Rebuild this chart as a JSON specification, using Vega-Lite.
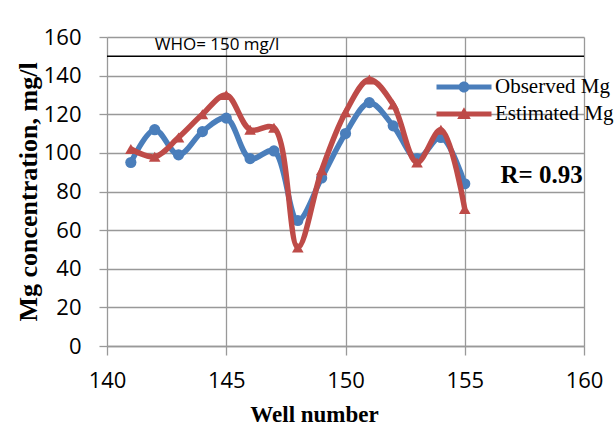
{
  "$schema": "https://vega.github.io/schema/vega-lite/v6.json",
  "width": 477,
  "height": 309,
  "autosize": "none",
  "padding": {"left": 107, "top": 37, "right": 32, "bottom": 80},
  "background": "white",
  "config": {"view": {"stroke": null}},
  "datasets": {
    "mg": [
      {"well": 141, "series": "Observed Mg", "mg": 95},
      {"well": 142, "series": "Observed Mg", "mg": 112},
      {"well": 143, "series": "Observed Mg", "mg": 99},
      {"well": 144, "series": "Observed Mg", "mg": 111},
      {"well": 145, "series": "Observed Mg", "mg": 118},
      {"well": 146, "series": "Observed Mg", "mg": 97},
      {"well": 147, "series": "Observed Mg", "mg": 101},
      {"well": 148, "series": "Observed Mg", "mg": 65},
      {"well": 149, "series": "Observed Mg", "mg": 87},
      {"well": 150, "series": "Observed Mg", "mg": 110},
      {"well": 151, "series": "Observed Mg", "mg": 126},
      {"well": 152, "series": "Observed Mg", "mg": 114},
      {"well": 153, "series": "Observed Mg", "mg": 97},
      {"well": 154, "series": "Observed Mg", "mg": 108},
      {"well": 155, "series": "Observed Mg", "mg": 84},
      {"well": 141, "series": "Estimated Mg", "mg": 102},
      {"well": 142, "series": "Estimated Mg", "mg": 98},
      {"well": 143, "series": "Estimated Mg", "mg": 108},
      {"well": 144, "series": "Estimated Mg", "mg": 120},
      {"well": 145, "series": "Estimated Mg", "mg": 130},
      {"well": 146, "series": "Estimated Mg", "mg": 112},
      {"well": 147, "series": "Estimated Mg", "mg": 113},
      {"well": 148, "series": "Estimated Mg", "mg": 51},
      {"well": 149, "series": "Estimated Mg", "mg": 91},
      {"well": 150, "series": "Estimated Mg", "mg": 121},
      {"well": 151, "series": "Estimated Mg", "mg": 138},
      {"well": 152, "series": "Estimated Mg", "mg": 125},
      {"well": 153, "series": "Estimated Mg", "mg": 95},
      {"well": 154, "series": "Estimated Mg", "mg": 112},
      {"well": 155, "series": "Estimated Mg", "mg": 71}
    ],
    "who": [{"x1": 140, "x2": 160, "limit": 150, "label": "WHO= 150 mg/l", "lx": 142}],
    "note": [{"x": 156.5, "y": 88.5, "label": "R= 0.93"}]
  },
  "encoding": {
    "x": {
      "type": "quantitative",
      "scale": {"domain": [140, 160], "nice": false, "zero": false},
      "axis": {
        "title": "Well number",
        "values": [140, 145, 150, 155, 160],
        "grid": true,
        "gridColor": "#999999",
        "gridWidth": 1.3,
        "domainColor": "#999999",
        "domainWidth": 1.3,
        "tickColor": "#999999",
        "tickWidth": 1.3,
        "tickSize": 9,
        "labelFlush": false,
        "labelFont": "Open Sans",
        "labelFontSize": 22,
        "labelColor": "#000000",
        "labelPadding": 15,
        "titleFont": "Liberation Serif",
        "titleFontSize": 23,
        "titleFontWeight": "bold",
        "titleColor": "#000000",
        "titleX": 207,
        "titleY": 75,
        "titleAlign": "center",
        "titleBaseline": "alphabetic"
      }
    },
    "y": {
      "type": "quantitative",
      "scale": {"domain": [0, 160], "nice": false},
      "axis": {
        "title": "Mg concentration, mg/l",
        "values": [0, 20, 40, 60, 80, 100, 120, 140, 160],
        "grid": true,
        "gridColor": "#999999",
        "gridWidth": 1.3,
        "domain": false,
        "tickColor": "#999999",
        "tickWidth": 1.3,
        "tickSize": 8,
        "labelFlush": false,
        "labelFont": "Open Sans",
        "labelFontSize": 22,
        "labelColor": "#000000",
        "labelPadding": 18,
        "titleFont": "Liberation Serif",
        "titleFontSize": 26,
        "titleFontWeight": "bold",
        "titleColor": "#000000",
        "titlePadding": 2
      }
    }
  },
  "layer": [
    {
      "data": {"name": "who"},
      "mark": {"type": "rule", "color": "#000000", "strokeWidth": 1.6},
      "encoding": {
        "x": {"field": "x1", "type": "quantitative"},
        "x2": {"field": "x2"},
        "y": {"field": "limit", "type": "quantitative"}
      }
    },
    {
      "data": {"name": "who"},
      "mark": {"type": "text", "align": "left", "baseline": "alphabetic", "dy": -6, "font": "Open Sans", "fontSize": 17, "color": "#000000"},
      "encoding": {
        "x": {"field": "lx", "type": "quantitative"},
        "y": {"field": "limit", "type": "quantitative"},
        "text": {"field": "label"}
      }
    },
    {
      "data": {"name": "mg"},
      "mark": {"type": "point", "filled": true, "opacity": 0},
      "encoding": {
        "x": {"field": "well", "type": "quantitative"},
        "y": {"field": "mg", "type": "quantitative"},
        "color": {
          "field": "series",
          "type": "nominal",
          "scale": {"domain": ["Observed Mg", "Estimated Mg"], "range": ["#4a7ebb", "#be4b48"]},
          "legend": {
            "title": null,
            "orient": "none",
            "legendX": 346,
            "legendY": 39,
            "padding": 0,
            "symbolSize": 484,
            "symbolOpacity": 1,
            "symbolStrokeWidth": 0,
            "labelFont": "Liberation Serif",
            "labelFontSize": 21,
            "labelColor": "#000000",
            "labelOffset": 20,
            "rowPadding": 6
          }
        },
        "shape": {
          "field": "series",
          "type": "nominal",
          "scale": {
            "domain": ["Observed Mg", "Estimated Mg"],
            "range": [
              "M-2.5,-0.23H2.5V0.23H-2.5Z M0.5,0A0.5,0.5 0 1,1 -0.5,0A0.5,0.5 0 1,1 0.5,0Z",
              "M-2.5,-0.23H2.5V0.23H-2.5Z M0,-0.62L0.62,0.45L-0.62,0.45Z"
            ]
          },
          "legend": {
            "title": null,
            "orient": "none",
            "legendX": 346,
            "legendY": 39,
            "padding": 0,
            "symbolSize": 484,
            "symbolOpacity": 1,
            "symbolStrokeWidth": 0,
            "labelFont": "Liberation Serif",
            "labelFontSize": 21,
            "labelColor": "#000000",
            "labelOffset": 20,
            "rowPadding": 6
          }
        }
      }
    },
    {
      "data": {"name": "mg"},
      "transform": [{"filter": "datum.series === 'Observed Mg'"}],
      "mark": {"type": "line", "strokeWidth": 5.5, "interpolate": "catmull-rom"},
      "encoding": {
        "x": {"field": "well", "type": "quantitative"},
        "y": {"field": "mg", "type": "quantitative"},
        "color": {"field": "series", "type": "nominal", "legend": null}
      }
    },
    {
      "data": {"name": "mg"},
      "transform": [{"filter": "datum.series === 'Observed Mg'"}],
      "mark": {"type": "point", "filled": true, "opacity": 1, "size": 125, "shape": "circle"},
      "encoding": {
        "x": {"field": "well", "type": "quantitative"},
        "y": {"field": "mg", "type": "quantitative"},
        "color": {"field": "series", "type": "nominal", "legend": null}
      }
    },
    {
      "data": {"name": "mg"},
      "transform": [{"filter": "datum.series === 'Estimated Mg'"}],
      "mark": {"type": "line", "strokeWidth": 5.5, "interpolate": "catmull-rom"},
      "encoding": {
        "x": {"field": "well", "type": "quantitative"},
        "y": {"field": "mg", "type": "quantitative"},
        "color": {"field": "series", "type": "nominal", "legend": null}
      }
    },
    {
      "data": {"name": "mg"},
      "transform": [{"filter": "datum.series === 'Estimated Mg'"}],
      "mark": {"type": "point", "filled": true, "opacity": 1, "size": 135, "shape": "triangle-up"},
      "encoding": {
        "x": {"field": "well", "type": "quantitative"},
        "y": {"field": "mg", "type": "quantitative"},
        "color": {"field": "series", "type": "nominal", "legend": null}
      }
    },
    {
      "data": {"name": "note"},
      "mark": {"type": "text", "align": "left", "baseline": "middle", "font": "Liberation Serif", "fontSize": 25, "fontWeight": "bold", "color": "#000000"},
      "encoding": {
        "x": {"field": "x", "type": "quantitative"},
        "y": {"field": "y", "type": "quantitative"},
        "text": {"field": "label"}
      }
    }
  ]
}
